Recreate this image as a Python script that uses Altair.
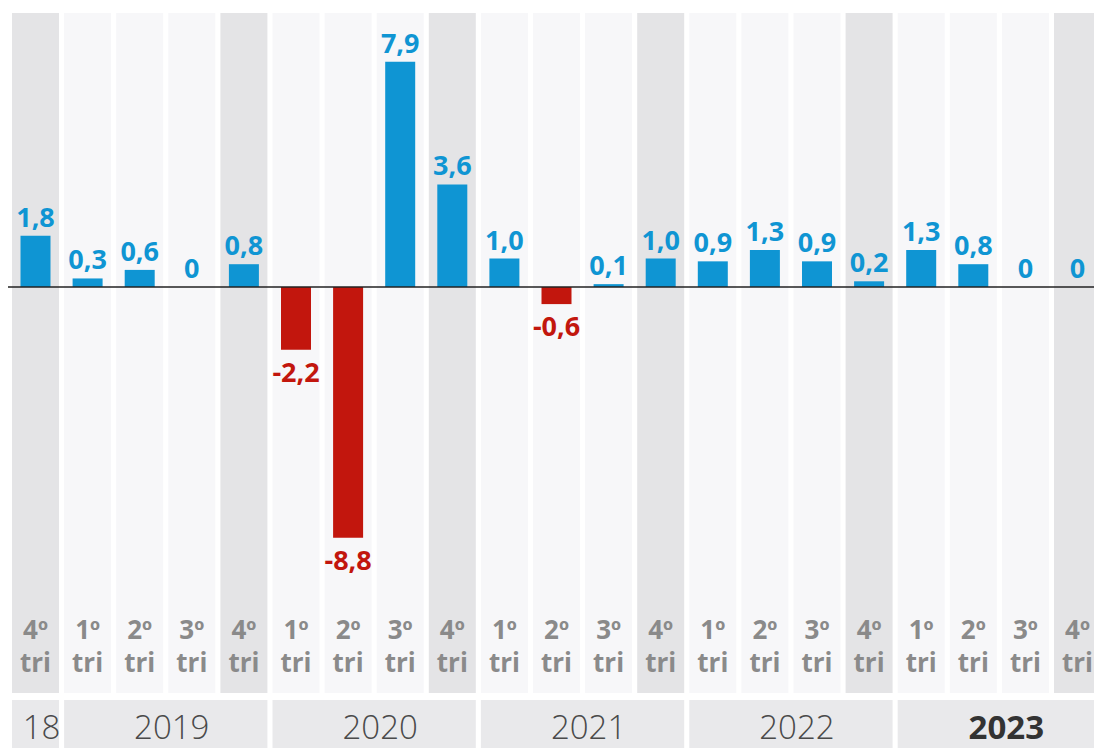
import altair as alt
import pandas as pd

# ---- data ----
quarters = ["4º", "1º", "2º", "3º", "4º", "1º", "2º", "3º", "4º", "1º", "2º",
            "3º", "4º", "1º", "2º", "3º", "4º", "1º", "2º", "3º", "4º"]
values = [1.8, 0.3, 0.6, 0, 0.8, -2.2, -8.8, 7.9, 3.6, 1.0, -0.6,
          0.1, 1.0, 0.9, 1.3, 0.9, 0.2, 1.3, 0.8, 0, 0]
value_labels = ["1,8", "0,3", "0,6", "0", "0,8", "-2,2", "-8,8", "7,9", "3,6", "1,0", "-0,6",
                "0,1", "1,0", "0,9", "1,3", "0,9", "0,2", "1,3", "0,8", "0", "0"]
years = ["18", "2019", "2020", "2021", "2022", "2023"]
year_first = [0, 1, 5, 9, 13, 17]
year_last = [0, 4, 8, 12, 16, 20]

# ---- layout ----
W, H = 1086, 740
PITCH = 52.1          # px per column
C0 = 27.5             # centre of first column, px from plot left
PX_UNIT = 28.5        # px per percentage point
ZERO_Y = 279          # zero line, px from plot top
COL_HALF = 23.5 / PITCH
BAR_HALF = 15 / PITCH

x_dom = [(0 - C0) / PITCH, (W - C0) / PITCH]
y_dom = [-(H - ZERO_Y) / PX_UNIT, ZERO_Y / PX_UNIT]
def ypx(p):  # plot pixel -> data value
    return (ZERO_Y - p) / PX_UNIT

xs = alt.Scale(domain=x_dom, nice=False, zero=False)
ys = alt.Scale(domain=y_dom, nice=False, zero=False)

BLUE = "#0f95d3"
RED = "#c2160d"

n = len(values)
df = pd.DataFrame({
    "i": list(range(n)),
    "q": quarters,
    "v": values,
    "lab": value_labels,
})
df["x1"] = df["i"] - COL_HALF
df["x2"] = df["i"] + COL_HALF
df["b1"] = df["i"] - BAR_HALF
df["b2"] = df["i"] + BAR_HALF
df["dark"] = df["q"] == "4º"
df["neg"] = df["v"] < 0
df["ctop"] = ypx(5)
df["cbot"] = ypx(685)
df["qy"] = ypx(623)
df["ty"] = ypx(656)

ydf = pd.DataFrame({"year": years, "f": year_first, "l": year_last})
ydf["x1"] = ydf["f"] - COL_HALF
ydf["x2"] = ydf["l"] + COL_HALF
ydf["xc"] = (ydf["f"] + ydf["l"]) / 2
ydf["y1"] = ypx(692)
ydf["y2"] = ypx(H + 10)
ydf["yt"] = ypx(721)
ydf["bold"] = ydf["year"] == "2023"

base = alt.Chart(df)

cols = base.mark_rect(clip=True).encode(
    x=alt.X("x1:Q", scale=xs, axis=None), x2="x2:Q",
    y=alt.Y("ctop:Q", scale=ys, axis=None), y2="cbot:Q",
    color=alt.Color("dark:N", scale=alt.Scale(domain=[False, True], range=["#f7f7f9", "#e4e4e6"]), legend=None),
)

bars = base.transform_filter("datum.v != 0").mark_rect(clip=True).encode(
    x=alt.X("b1:Q", scale=xs, axis=None), x2="b2:Q",
    y=alt.Y("v:Q", scale=ys, axis=None), y2=alt.datum(0),
    color=alt.Color("neg:N", scale=alt.Scale(domain=[False, True], range=[BLUE, RED]), legend=None),
)

zero = alt.Chart(pd.DataFrame({"z": [0]})).mark_rule(color="#222222", strokeWidth=1.5).encode(
    y=alt.Y("z:Q", scale=ys, axis=None)
)

font = "Open Sans"
pos_lab = base.transform_filter("datum.v >= 0").mark_text(
    font=font, fontSize=27, fontWeight="bold", baseline="alphabetic", dy=-9, color=BLUE
).encode(x=alt.X("i:Q", scale=xs, axis=None), y=alt.Y("v:Q", scale=ys, axis=None), text="lab:N")

neg_lab = base.transform_filter("datum.v < 0").mark_text(
    font=font, fontSize=27, fontWeight="bold", baseline="alphabetic", dy=32, color=RED
).encode(x=alt.X("i:Q", scale=xs, axis=None), y=alt.Y("v:Q", scale=ys, axis=None), text="lab:N")

qlab = base.mark_text(
    font="Noto Sans", fontSize=26, fontWeight="bold", baseline="middle", color="#8a8a8a"
).encode(x=alt.X("i:Q", scale=xs, axis=None), y=alt.Y("qy:Q", scale=ys, axis=None), text="q:N")

tlab = base.mark_text(
    font=font, fontSize=26, fontWeight="bold", baseline="middle", color="#8a8a8a"
).encode(x=alt.X("i:Q", scale=xs, axis=None), y=alt.Y("ty:Q", scale=ys, axis=None), text=alt.value("tri"))

ybase = alt.Chart(ydf)
yrect = ybase.mark_rect(clip=True, color="#e9e9eb").encode(
    x=alt.X("x1:Q", scale=xs, axis=None), x2="x2:Q",
    y=alt.Y("y1:Q", scale=ys, axis=None), y2="y2:Q",
)
ytext = ybase.transform_filter("!datum.bold").mark_text(
    font=font, fontSize=33, fontWeight=300, baseline="middle", color="#4a4a4a", dx=6
).encode(x=alt.X("xc:Q", scale=xs, axis=None), y=alt.Y("yt:Q", scale=ys, axis=None), text="year:N")
ytext_b = ybase.transform_filter("datum.bold").mark_text(
    font=font, fontSize=33, fontWeight="bold", baseline="middle", color="#333333", dx=7
).encode(x=alt.X("xc:Q", scale=xs, axis=None), y=alt.Y("yt:Q", scale=ys, axis=None), text="year:N")

chart = alt.layer(cols, bars, zero, pos_lab, neg_lab, qlab, tlab, yrect, ytext, ytext_b).resolve_scale(
    color="independent"
).properties(
    width=W, height=H, padding=0, autosize=alt.AutoSizeParams(type="none")
).configure_view(stroke=None)

chart.save("out.html", embed_options={"renderer": "svg", "actions": False})
